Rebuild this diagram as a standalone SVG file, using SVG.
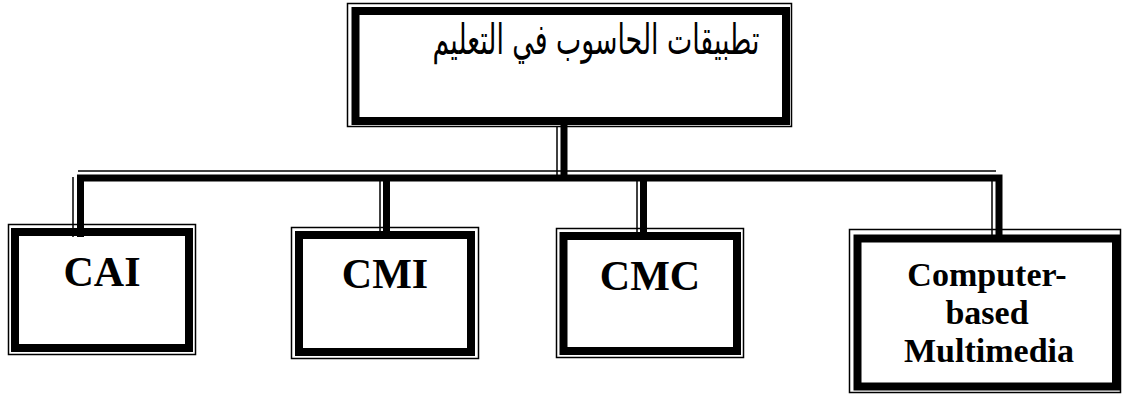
<svg xmlns="http://www.w3.org/2000/svg" width="1122" height="394" viewBox="0 0 1122 394">
<style>
.thin{fill:none;stroke:#000;stroke-width:1.5}
.thick{fill:none;stroke:#000;stroke-width:8}
.bg{fill:#fff;stroke:none}
.lbl{font-family:"Liberation Serif","Times New Roman",serif;font-weight:bold;fill:#000;text-anchor:middle}
.ar{font-family:"DejaVu Sans",sans-serif;fill:#000;text-anchor:middle}
.cthin{stroke:#000;stroke-width:1.5;fill:none}
.cthick{stroke:#000;stroke-width:7;fill:none}
</style>
<rect class="bg" x="0" y="0" width="1122" height="394"/>
<g id="connectors">
<line class="cthin" x1="557" y1="127" x2="557" y2="175"/>
<line class="cthick" x1="564" y1="124" x2="564" y2="178"/>
<line class="cthin" x1="78" y1="171" x2="996" y2="171"/>
<polyline class="cthick" points="80.5,237 80.5,178 999,178 999,237"/>
<line class="cthin" x1="73" y1="177" x2="73" y2="237"/>
<line class="cthin" x1="380" y1="178" x2="380" y2="236"/>
<line class="cthick" x1="386.5" y1="178" x2="386.5" y2="236"/>
<line class="cthin" x1="637" y1="178" x2="637" y2="236"/>
<line class="cthick" x1="643.5" y1="178" x2="643.5" y2="236"/>
<line class="cthin" x1="992" y1="178" x2="992" y2="237"/>
</g>
<g id="root">
<rect class="thin" x="347.5" y="3.5" width="444" height="123"/>
<rect class="thick" x="355.5" y="11" width="430.5" height="110"/>
<text class="ar" x="596" y="54" font-size="42" direction="rtl" textLength="327" lengthAdjust="spacingAndGlyphs">تطبيقات الحاسوب في التعليم</text>
</g>
<g id="cai">
<rect class="thin" x="8.5" y="224.5" width="187" height="130"/>
<rect class="thick" x="15" y="232" width="174" height="116"/>
<text class="lbl" x="102" y="286" font-size="42">CAI</text>
</g>
<g id="cmi">
<rect class="thin" x="291.5" y="227.5" width="187" height="131"/>
<rect class="thick" x="299" y="235" width="172" height="117"/>
<text class="lbl" x="385" y="288" font-size="42">CMI</text>
</g>
<g id="cmc">
<rect class="thin" x="556.5" y="228.5" width="187" height="129"/>
<rect class="thick" x="563.5" y="236" width="173.5" height="115"/>
<text class="lbl" x="650" y="290" font-size="42">CMC</text>
</g>
<g id="multimedia">
<rect class="thin" x="849.5" y="229.5" width="271" height="163"/>
<rect class="thick" x="857.5" y="238.5" width="258.5" height="148"/>
<text class="lbl" font-size="34"><tspan x="987" y="286">Computer-</tspan><tspan x="987" y="324">based</tspan><tspan x="989" y="362">Multimedia</tspan></text>
</g>
</svg>
